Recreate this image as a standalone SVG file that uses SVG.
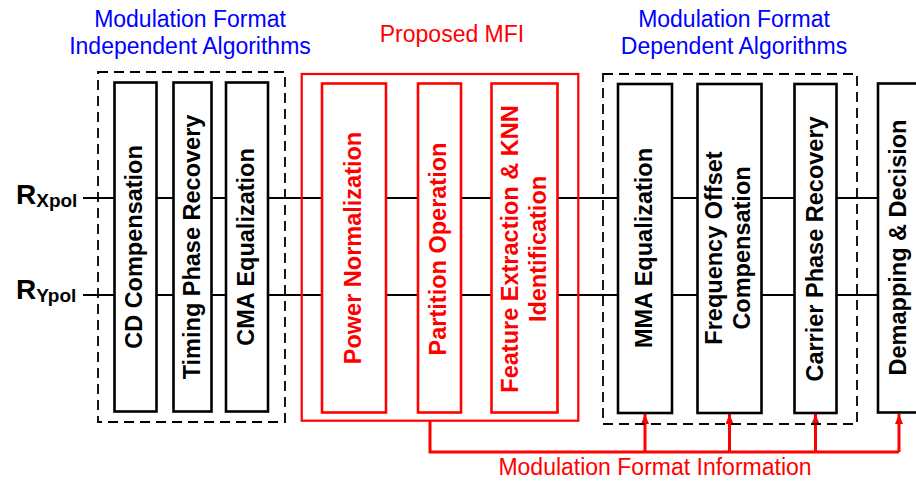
<svg xmlns="http://www.w3.org/2000/svg" width="916" height="481" viewBox="0 0 916 481">
<style>
.box{fill:#fff;stroke:#000;stroke-width:2.6}
.rbox{fill:#fff;stroke:#f00;stroke-width:2.6}
.grp{fill:none;stroke:#000;stroke-width:1.8;stroke-dasharray:10 6}
.rgrp{fill:none;stroke:#f00;stroke-width:2.2}
.bt{font-family:"Liberation Sans",Arial,sans-serif;font-weight:bold;font-size:23.5px;text-anchor:middle;fill:#000}
.rt{fill:#f00}
.lbl{font-family:"Liberation Sans",Arial,sans-serif;font-size:23px;text-anchor:middle}
.sig{stroke:#000;stroke-width:2;fill:none}
.mfi{stroke:#f00;stroke-width:3;fill:none}
</style>
<defs>
<marker id="ah" markerUnits="userSpaceOnUse" markerWidth="10" markerHeight="8" refX="10" refY="4" orient="auto" viewBox="0 0 10 8">
<path d="M0,0 L10,4 L0,8 Z" fill="#f00"/>
</marker>
</defs>
<g id="titles">
<text class="lbl" x="190" y="27" fill="#00f">Modulation Format</text>
<text class="lbl" x="190" y="54" fill="#00f">Independent Algorithms</text>
<text class="lbl" x="452" y="42" fill="#f00">Proposed MFI</text>
<text class="lbl" x="734" y="27" fill="#00f">Modulation Format</text>
<text class="lbl" x="734" y="54" fill="#00f">Dependent Algorithms</text>
</g>
<g id="inputs" font-family="Liberation Sans,Arial,sans-serif" font-weight="bold">
<text x="16" y="204" font-size="28">R<tspan font-size="19" dy="3">Xpol</tspan></text>
<text x="16" y="299" font-size="28">R<tspan font-size="19" dy="3">Ypol</tspan></text>
</g>
<g id="connectors">
<line class="sig" x1="83" y1="198" x2="880" y2="198"/>
<line class="sig" x1="83" y1="295" x2="880" y2="295"/>
<path class="mfi" d="M430,421 V452 H899"/>
<line class="mfi" x1="645" y1="452" x2="645" y2="414" marker-end="url(#ah)"/>
<line class="mfi" x1="729.5" y1="452" x2="729.5" y2="414" marker-end="url(#ah)"/>
<line class="mfi" x1="815.5" y1="452" x2="815.5" y2="414" marker-end="url(#ah)"/>
<line class="mfi" x1="899" y1="452" x2="899" y2="414" marker-end="url(#ah)"/>
<text class="lbl" x="655" y="475" fill="#f00">Modulation Format Information</text>
</g>
<g id="group-independent"><rect class="grp" x="98" y="72" width="187" height="350"/></g>
<g id="group-mfi"><rect class="rgrp" x="301.7" y="74" width="276.6" height="346.7"/></g>
<g id="group-dependent"><rect class="grp" x="603" y="74" width="254" height="350"/></g>
<g id="cd"><rect class="box" x="114.5" y="82.5" width="42" height="329"/>
<text class="bt" transform="translate(142,247) rotate(-90)">CD Compensation</text></g>
<g id="timing"><rect class="box" x="173.5" y="82.5" width="38" height="329"/>
<text class="bt" transform="translate(200,247) rotate(-90)">Timing Phase Recovery</text></g>
<g id="cma"><rect class="box" x="226" y="82.5" width="42" height="329"/>
<text class="bt" transform="translate(253.5,247) rotate(-90)">CMA Equalization</text></g>
<g id="power"><rect class="rbox" x="322" y="83.5" width="64" height="329"/>
<text class="bt rt" transform="translate(361,248) rotate(-90)">Power Normalization</text></g>
<g id="partition"><rect class="rbox" x="418" y="83.5" width="43" height="329"/>
<text class="bt rt" transform="translate(446,249) rotate(-90)">Partition Operation</text></g>
<g id="feature"><rect class="rbox" x="491.5" y="83.5" width="66" height="329"/>
<text class="bt rt" transform="translate(517.5,249) rotate(-90)">Feature Extraction &amp; KNN</text>
<text class="bt rt" transform="translate(545.5,249) rotate(-90)">Identification</text></g>
<g id="mma"><rect class="box" x="618" y="84" width="54" height="329"/>
<text class="bt" transform="translate(652,248) rotate(-90)">MMA Equalization</text></g>
<g id="freq"><rect class="box" x="697.5" y="84" width="64" height="329"/>
<text class="bt" transform="translate(722,248) rotate(-90)">Frequency Offset</text>
<text class="bt" transform="translate(750,248) rotate(-90)">Compensation</text></g>
<g id="carrier"><rect class="box" x="794.5" y="84" width="42" height="329"/>
<text class="bt" transform="translate(823,249) rotate(-90)">Carrier Phase Recovery</text></g>
<g id="demap"><rect class="box" x="878" y="83.5" width="44" height="329"/>
<text class="bt" transform="translate(905.5,247.5) rotate(-90)">Demapping &amp; Decision</text></g>
</svg>
